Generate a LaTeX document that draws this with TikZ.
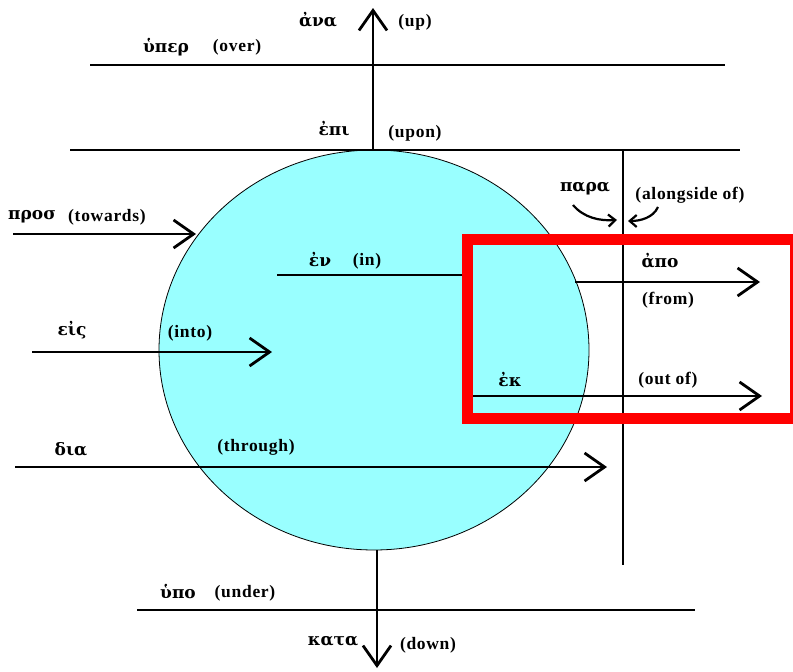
\documentclass[tikz,border=0pt]{standalone}
\usepackage{fontspec}
\setmainfont{Liberation Serif}
\newfontfamily\grk{DejaVu Serif}
\usetikzlibrary{arrows.meta,shapes.geometric}
\definecolor{ballcyan}{HTML}{99FFFF}
\definecolor{boxred}{HTML}{FF0000}
\begin{document}
\begin{tikzpicture}[x=1pt,y=-1pt,line width=2.8pt,
  lbl/.style={font=\addfontfeature{LetterSpace=4}\bfseries\fontsize{17.5}{19}\selectfont,inner sep=0pt},
  gk/.style={font=\grk\bfseries\fontsize{17}{19}\selectfont,inner sep=0pt},
  barb/.style={-{Straight Barb[length=20pt,width=28pt]}},
  smallbarb/.style={line width=2.2pt,-{Straight Barb[length=7pt,width=12pt]}},
  rule/.style={line width=2.8pt}]
\useasboundingbox (0,0) rectangle (793,672);
% ball
\node[ellipse,fill=ballcyan,draw=black,line width=0.8pt,inner sep=0pt,
      minimum width=430pt,minimum height=400pt] (ball) at (374,350) {};
% coordinates
\coordinate (overL) at (90,65);   \coordinate (overR) at (725,65);
\coordinate (uponL) at (70,150);  \coordinate (uponR) at (740,150);
\coordinate (upS) at (373,150);   \coordinate (upT) at (373,8);
\coordinate (vR1) at (623,150);   \coordinate (vR2) at (623,565);
\coordinate (undL) at (137,610);  \coordinate (undR) at (695,610);
\coordinate (downS) at (377,550); \coordinate (downT) at (377,668);
\coordinate (towS) at (13,234);   \coordinate (towT) at (196,234);
\coordinate (intoS) at (32,352);  \coordinate (intoT) at (272,352);
\coordinate (inS) at (277,275);   \coordinate (inE) at (468,275);
\coordinate (fromS) at (575,282); \coordinate (fromT) at (760,282);
\coordinate (outS) at (472,396);  \coordinate (outT) at (762,396);
\coordinate (thrS) at (15,467);   \coordinate (thrT) at (607,467);
\coordinate (paL1) at (573,205);  \coordinate (paL2) at (617,220);
\coordinate (paR1) at (658,207);  \coordinate (paR2) at (628,221);
% lines
\draw[rule] (overL) -- (overR);
\draw[rule] (uponL) -- (uponR);
\draw[rule,barb] (upS) -- (upT);
\draw[rule] (vR1) -- (vR2);
\draw[rule] (undL) -- (undR);
\draw[rule,barb] (downS) -- (downT);
\draw[rule,barb] (towS) -- (towT);
\draw[rule,barb] (intoS) -- (intoT);
\draw[rule] (inS) -- (inE);
\draw[rule,barb] (fromS) -- (fromT);
\draw[rule,barb] (outS) -- (outT);
\draw[rule,barb] (thrS) -- (thrT);
\draw[smallbarb] (paL1) .. controls (584,218) and (600,221) .. (paL2);
\draw[smallbarb] (paR1) .. controls (653,218) and (640,221) .. (paR2);
% labels
\node[gk]  (ana)   at (318,20)  {ἀνα};
\node[lbl] (up)    at (415,22)  {(up)};
\node[gk]  (hyper) at (166,47)  {ὑπερ};
\node[lbl] (over)  at (237,47)  {(over)};
\node[gk]  (epi)   at (334,129) {ἐπι};
\node[lbl] (upon)  at (415,133) {(upon)};
\node[gk]  (para)  at (585,189) {παρα};
\node[lbl] (along) at (690,195) {(alongside of)};
\node[gk]  (pros)  at (32,217)  {προσ};
\node[lbl] (tow)   at (107,217) {(towards)};
\node[gk]  (en)    at (320,259) {ἐν};
\node[lbl] (in)    at (367,261) {(in)};
\node[gk]  (apo)   at (660,261) {ἀπο};
\node[lbl] (from)  at (668,300) {(from)};
\node[gk]  (eis)   at (72,330)  {εἰς};
\node[lbl] (into)  at (190,333) {(into)};
\node[gk]  (ek)    at (510,379) {ἐκ};
\node[lbl] (outof) at (668,380) {(out of)};
\node[gk]  (dia)   at (71,449)  {δια};
\node[lbl] (thr)   at (256,447) {(through)};
\node[gk]  (hypo)  at (178,592) {ὑπο};
\node[lbl] (under) at (245,593) {(under)};
\node[gk]  (kata)  at (333,641) {κατα};
\node[lbl] (down)  at (428,645) {(down)};
% red frame
\begin{scope}
\clip (0,0) rectangle (793,672);
\draw[boxred,line width=11pt] (467.5,239) rectangle (795.5,418);
\end{scope}
\end{tikzpicture}
\end{document}
